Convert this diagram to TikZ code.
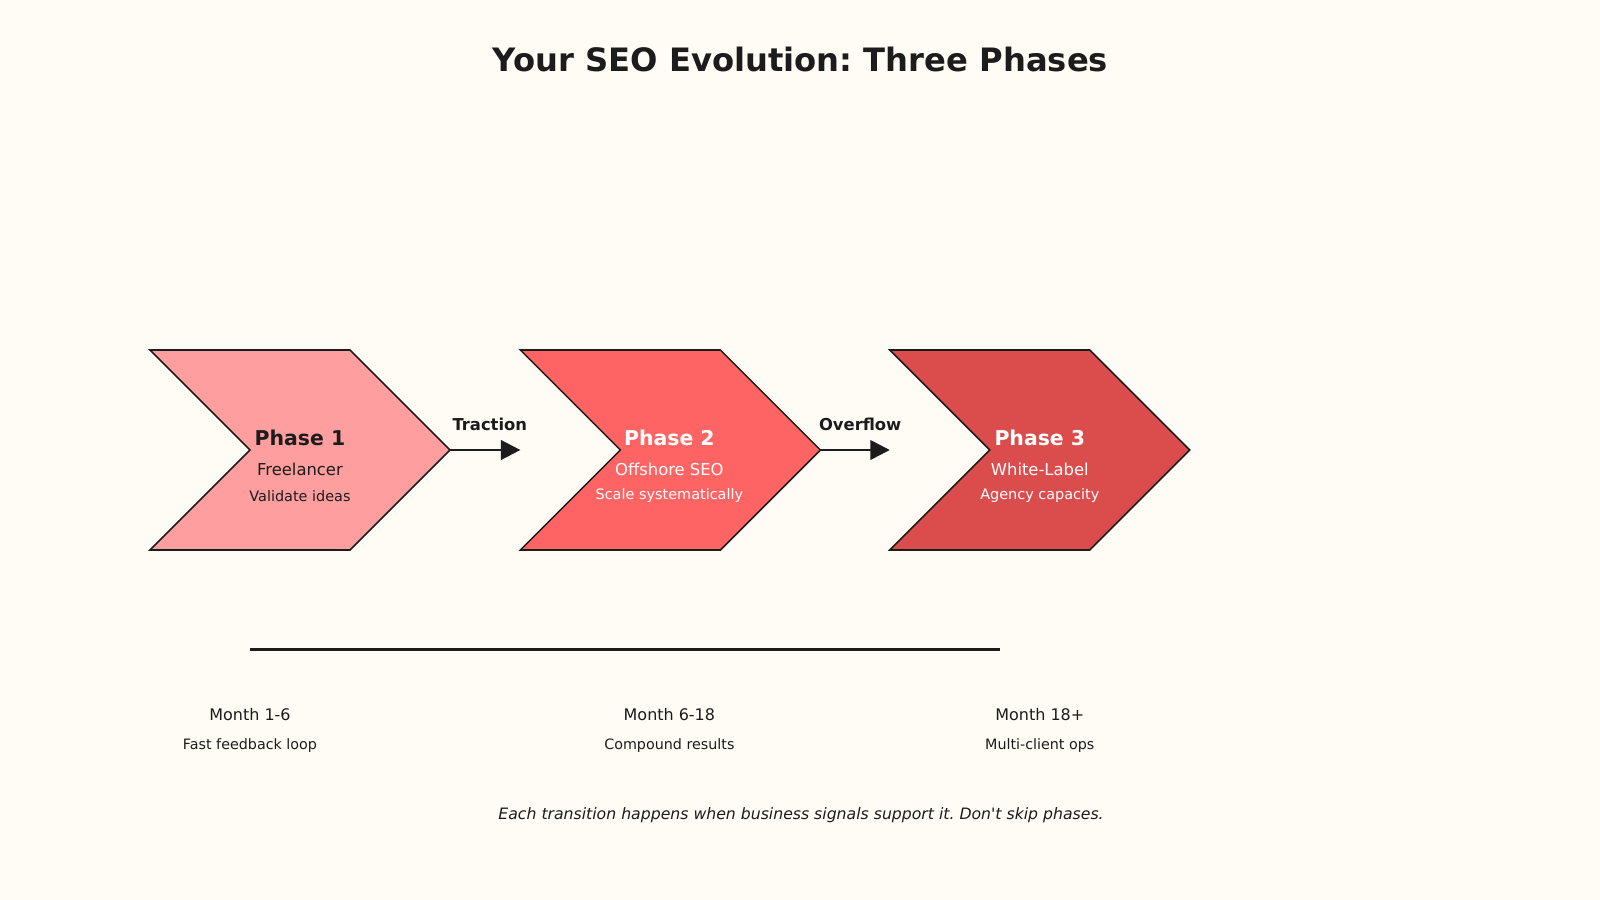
\documentclass[tikz,border=0pt]{standalone}
\usepackage{fontspec}
\setmainfont{DejaVu Sans}[Ligatures=TeXOff]
\usetikzlibrary{arrows.meta}
\frenchspacing
\definecolor{bg}{HTML}{FFFCF5}
\definecolor{ink}{HTML}{1C1C1C}
\definecolor{pone}{HTML}{FF9E9E}
\definecolor{ptwo}{HTML}{FF6464}
\definecolor{pthree}{HTML}{DB4D4D}
\tikzset{
  chev/.style={draw=ink, line width=1.1pt, line join=miter},
  ptitle/.style={font=\bfseries\fontsize{14.7}{17}\selectfont, inner sep=0pt},
  prole/.style={font=\fontsize{11.8}{14}\selectfont, inner sep=0pt},
  psub/.style={font=\fontsize{10.4}{12}\selectfont, inner sep=0pt},
  trans/.style={font=\bfseries\fontsize{11.8}{14}\selectfont, inner sep=0pt, text=ink},
  flow/.style={draw=ink, line width=1.8pt, -{Triangle[length=14pt,width=14pt]}},
  month/.style={font=\fontsize{11.5}{13}\selectfont, inner sep=0pt, text=ink},
  msub/.style={font=\fontsize{10.3}{12}\selectfont, inner sep=0pt, text=ink},
}
\begin{document}
\begin{tikzpicture}[x=0.735pt,y=-0.735pt]
\fill[bg] (0,0) rectangle (1568,882);
\useasboundingbox (0,0) rectangle (1568,882);
\node[font=\bfseries\fontsize{23.2}{27}\selectfont, text=ink, inner sep=0pt] (title) at (784.5,58) {Your SEO Evolution: Three Phases};
% chevrons
\foreach \x/\c/\n in {147/pone/1,510/ptwo/2,872/pthree/3}{
  \draw[chev, fill=\c] (\x,343) -- ++(196,0) -- ++(98,98) -- ++(-98,98) -- ++(-196,0) -- ++(98,-98) -- cycle;
}
\coordinate (tip1) at (440,441);
\coordinate (end1) at (510,441);
\coordinate (tip2) at (803,441);
\coordinate (end2) at (872,441);
% texts
\node[ptitle, text=ink] (t1) at (294,429) {Phase 1};
\node[prole, text=ink] (r1) at (294,460) {Freelancer};
\node[psub, text=ink] (s1) at (294,486) {Validate ideas};
\node[ptitle, text=white] (t2) at (656,429) {Phase 2};
\node[prole, text=white] (r2) at (656,460) {Offshore SEO};
\node[psub, text=white] (s2) at (656,486) {Scale systematically};
\node[ptitle, text=white] (t3) at (1019,429) {Phase 3};
\node[prole, text=white] (r3) at (1019,460) {White-Label};
\node[psub, text=white] (s3) at (1019,486) {Agency capacity};
% transitions
\draw[flow] (tip1) -- (end1);
\draw[flow] (tip2) -- (end2);
\node[trans] (lt) at (480,416) {Traction};
\node[trans] (lo) at (843,416) {Overflow};
% timeline
\coordinate (tl0) at (245,636.5);
\coordinate (tl1) at (980,636.5);
\draw[ink, line width=2.2pt] (tl0) -- (tl1);
\node[month] (m1) at (245,700) {Month 1-6};
\node[msub] (ms1) at (245,731) {Fast feedback loop};
\node[month] (m2) at (656,700) {Month 6-18};
\node[msub] (ms2) at (656,731) {Compound results};
\node[month] (m3) at (1019,700) {Month 18+};
\node[msub] (ms3) at (1019,731) {Multi-client ops};
\node[font=\itshape\fontsize{11.3}{13}\selectfont, text=ink, inner sep=0pt] (foot) at (785,799) {Each transition happens when business signals support it. Don't skip phases.};
\end{tikzpicture}
\end{document}
